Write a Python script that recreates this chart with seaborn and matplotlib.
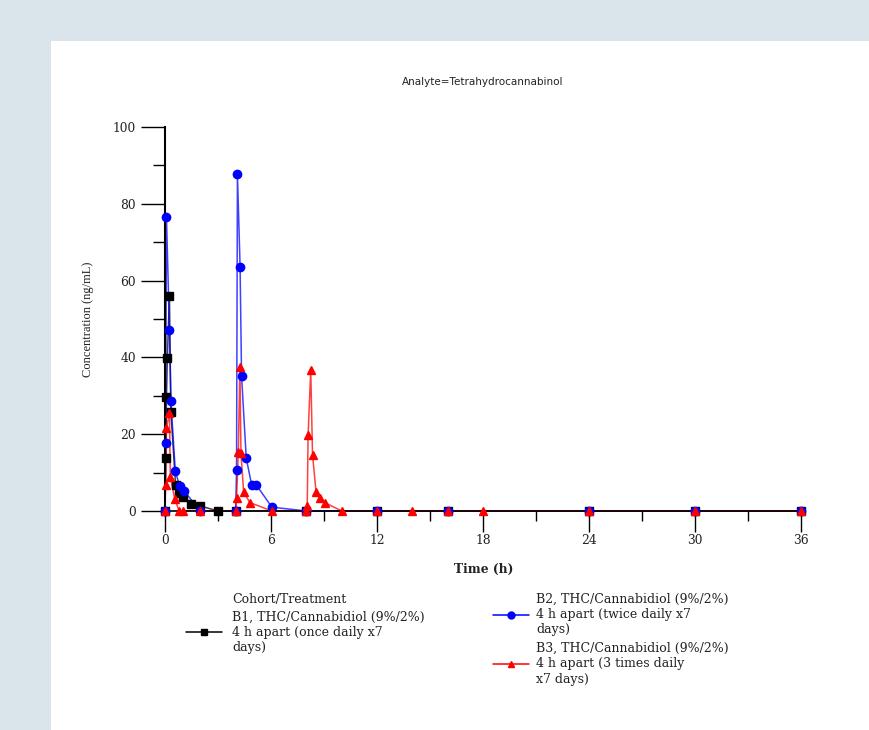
import pandas as pd
import matplotlib
matplotlib.use("Agg")
import matplotlib.pyplot as plt
import seaborn as sns
from matplotlib.patches import Rectangle
from matplotlib.lines import Line2D
from matplotlib.ticker import MultipleLocator

# B1: once daily
b1_time = [0, 0.05, 0.083, 0.133, 0.25, 0.333, 0.6, 0.8, 1.0, 1.5, 2.0, 3.0, 4.0, 8.0, 12, 16, 24, 30, 36]
b1_conc = [0, 13.8, 29.7, 39.8, 56.0, 25.8, 6.8, 4.6, 3.6, 1.8, 1.3, 0, 0, 0, 0, 0, 0, 0, 0]

# B2: twice daily
b2_time = [0, 0.033, 0.083, 0.25, 0.333, 0.583, 0.833, 1.083, 2.0, 4.0, 4.05, 4.1, 4.25, 4.333,
           4.6, 4.9, 5.15, 6.05, 8.0, 12, 16, 24, 30, 36]
b2_conc = [0, 17.7, 76.6, 47.1, 28.6, 10.4, 6.4, 5.2, 0, 0, 10.7, 87.8, 63.6, 35.2,
           13.7, 6.9, 6.9, 1.0, 0, 0, 0, 0, 0, 0]

# B3: 3 times daily
b3_time = [0, 0.033, 0.083, 0.25, 0.3, 0.55, 0.8, 1.0, 2.0, 4.0, 4.05, 4.15, 4.24, 4.3,
           4.45, 4.8, 6.05, 8.0, 8.05, 8.1, 8.25, 8.35, 8.55, 8.8, 9.05, 10.0, 12, 14, 16, 18,
           24, 30, 36]
b3_conc = [0, 6.8, 21.7, 25.5, 8.9, 3.2, 0, 0, 0, 0, 3.3, 15.4, 37.6, 15.0,
           5.0, 2.2, 0, 0, 1.2, 19.8, 36.7, 14.6, 5.0, 3.3, 2.2, 0, 0, 0, 0, 0,
           0, 0, 0]

labels = [
    "B1, THC/Cannabidiol (9%/2%)\n4 h apart (once daily x7\ndays)",
    "B2, THC/Cannabidiol (9%/2%)\n4 h apart (twice daily x7\ndays)",
    "B3, THC/Cannabidiol (9%/2%)\n4 h apart (3 times daily\nx7 days)",
]

series = [
    (b1_time, b1_conc, "black", "s"),
    (b2_time, b2_conc, "#0000ff", "o"),
    (b3_time, b3_conc, "#ff0000", "^"),
]

sns.set_style("white")
plt.rcParams["font.family"] = ["DejaVu Serif"]
plt.rcParams["text.color"] = "#222222"

fig = plt.figure(figsize=(8.7, 7.3), dpi=100)
fig.patch.set_facecolor("#d9e5eb")
fig.add_artist(Rectangle((51 / 870, 0), 1 - 51 / 870, 1 - 41 / 730,
                         transform=fig.transFigure, facecolor="white",
                         edgecolor="none", zorder=0))

ax = fig.add_axes([165 / 870, 1 - 511 / 730, 636 / 870, 384 / 730])
ax.set_facecolor("none")

for t, c, col, mk in series:
    df = pd.DataFrame({"t": t, "c": c})
    sns.lineplot(data=df, x="t", y="c", sort=False, color=col, lw=1.1,
                 alpha=0.75, ax=ax, clip_on=False)
    ax.plot(df["t"], df["c"], ls="none", marker=mk, color=col, ms=6,
            mec=col, clip_on=False, zorder=4)

ax.set_xlim(0, 36)
ax.set_ylim(0, 100)
ax.xaxis.set_major_locator(MultipleLocator(6))
ax.xaxis.set_minor_locator(MultipleLocator(3))
ax.yaxis.set_major_locator(MultipleLocator(20))
ax.yaxis.set_minor_locator(MultipleLocator(10))

for s in ["top", "right"]:
    ax.spines[s].set_visible(False)
ax.spines["left"].set_linewidth(1.5)
ax.spines["bottom"].set_linewidth(1.2)
ax.spines["left"].set_color("black")
ax.spines["bottom"].set_color("black")

ax.tick_params(axis="y", which="major", direction="out", length=17, width=1,
               pad=4, labelsize=8.8, left=True, color="black", labelcolor="#222222")
ax.tick_params(axis="y", which="minor", direction="out", length=8.5, width=1,
               left=True, color="black")
ax.tick_params(axis="x", which="major", direction="out", length=15, width=1,
               pad=1.5, labelsize=8.8, bottom=True, color="black", labelcolor="#222222")
ax.tick_params(axis="x", which="minor", direction="out", length=7, width=1,
               bottom=True, color="black")

ax.set_xlabel("")
ax.set_ylabel("")
fig.text(484 / 870, 1 - 569 / 730, "Time (h)", ha="center", va="center",
         fontsize=8.8, fontweight="bold")
fig.text(88 / 870, 1 - 319 / 730, "Concentration (ng/mL)", ha="center",
         va="center", rotation=90, fontsize=9, family="Liberation Serif")
fig.text(483 / 870, 1 - 82 / 730, "Analyte=Tetrahydrocannabinol", ha="center",
         va="center", fontsize=7.5, family="DejaVu Sans")

# legend
fig.text(232 / 870, 1 - 600 / 730, "Cohort/Treatment", ha="left", va="center",
         fontsize=9)
leg_pos = [(232, 617, 186, 632), (536, 599, 493, 615), (536, 648, 493, 664)]
for (tx, ty, lx, ly), (t, c, col, mk), lab in zip(leg_pos, series, labels):
    fig.text(tx / 870, 1 - (ty - 6.5) / 730, lab, ha="left", va="top",
             fontsize=9, linespacing=1.25)
    fig.add_artist(Line2D([lx / 870, (lx + 36) / 870], [1 - ly / 730] * 2,
                          transform=fig.transFigure, color=col, lw=1.1))
    fig.add_artist(Line2D([(lx + 18) / 870], [1 - ly / 730],
                          transform=fig.transFigure, color=col, ls="none",
                          marker=mk, ms=5))

fig.savefig("out.png", dpi=100, facecolor=fig.get_facecolor())
